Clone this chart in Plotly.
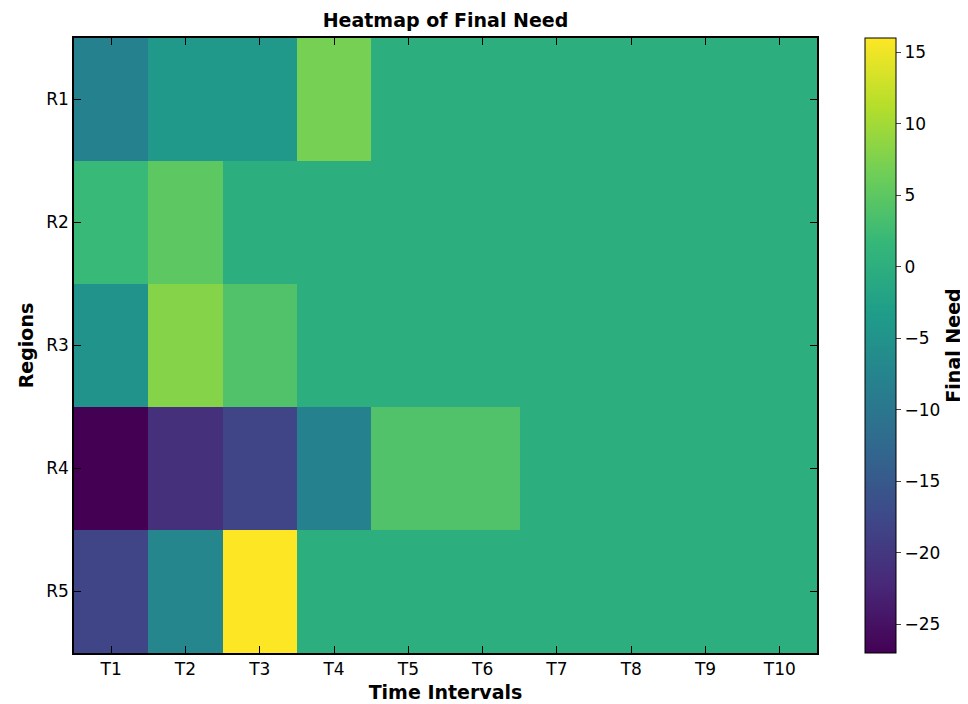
import plotly.graph_objects as go

cols = ["T1","T2","T3","T4","T5","T6","T7","T8","T9","T10"]
rows = ["R1","R2","R3","R4","R5"]
z = [
    [-8, -4, -4, 7, 0, 0, 0, 0, 0, 0],
    [2, 5, 0, 0, 0, 0, 0, 0, 0, 0],
    [-5, 8, 4, 0, 0, 0, 0, 0, 0, 0],
    [-27, -21, -18, -8, 4, 4, 0, 0, 0, 0],
    [-18, -7, 16, 0, 0, 0, 0, 0, 0, 0],
]

fig = go.Figure(go.Heatmap(
    z=z, x=cols, y=rows, colorscale="Viridis", zmin=-27, zmax=16,
    colorbar=dict(title=dict(text="<b>Final Need</b>", side="right", font=dict(size=19)),
                  x=1.0, xanchor="left", xpad=0, ypad=0, len=1, y=0.5, yanchor="middle",
                  thickness=31, outlinewidth=1, outlinecolor="black",
                  ticks="outside", ticklen=5, tickvals=[-25,-20,-15,-10,-5,0,5,10,15],
                  ticktext=["\u221225","\u221220","\u221215","\u221210","\u22125","0","5","10","15"],
                  tickfont=dict(size=17)),
))
ax = dict(showline=True, linecolor="black", linewidth=1.5, mirror="ticks", ticks="inside",
          ticklen=7, tickcolor="black", tickfont=dict(size=17), showgrid=False, zeroline=False)
fig.update_layout(
    width=968, height=704, plot_bgcolor="white", paper_bgcolor="white",
    font=dict(family="DejaVu Sans", color="black"),
    margin=dict(l=66, r=158, t=30, b=59),
    title=dict(text="<b>Heatmap of Final Need</b>", x=0.5, xanchor="center", xref="paper", y=0.992, yanchor="top", font=dict(size=19)),
    xaxis=dict(title=dict(text="<b>Time Intervals</b>", font=dict(size=19), standoff=8), **ax),
    yaxis=dict(title=dict(text="<b>Regions</b>", font=dict(size=19), standoff=8), autorange="reversed", **ax),
)
fig.update_layout(margin=dict(r=158))
fig.data[0].colorbar.x = 1.0 + (857-810)/744
fig.write_html("out.html")
